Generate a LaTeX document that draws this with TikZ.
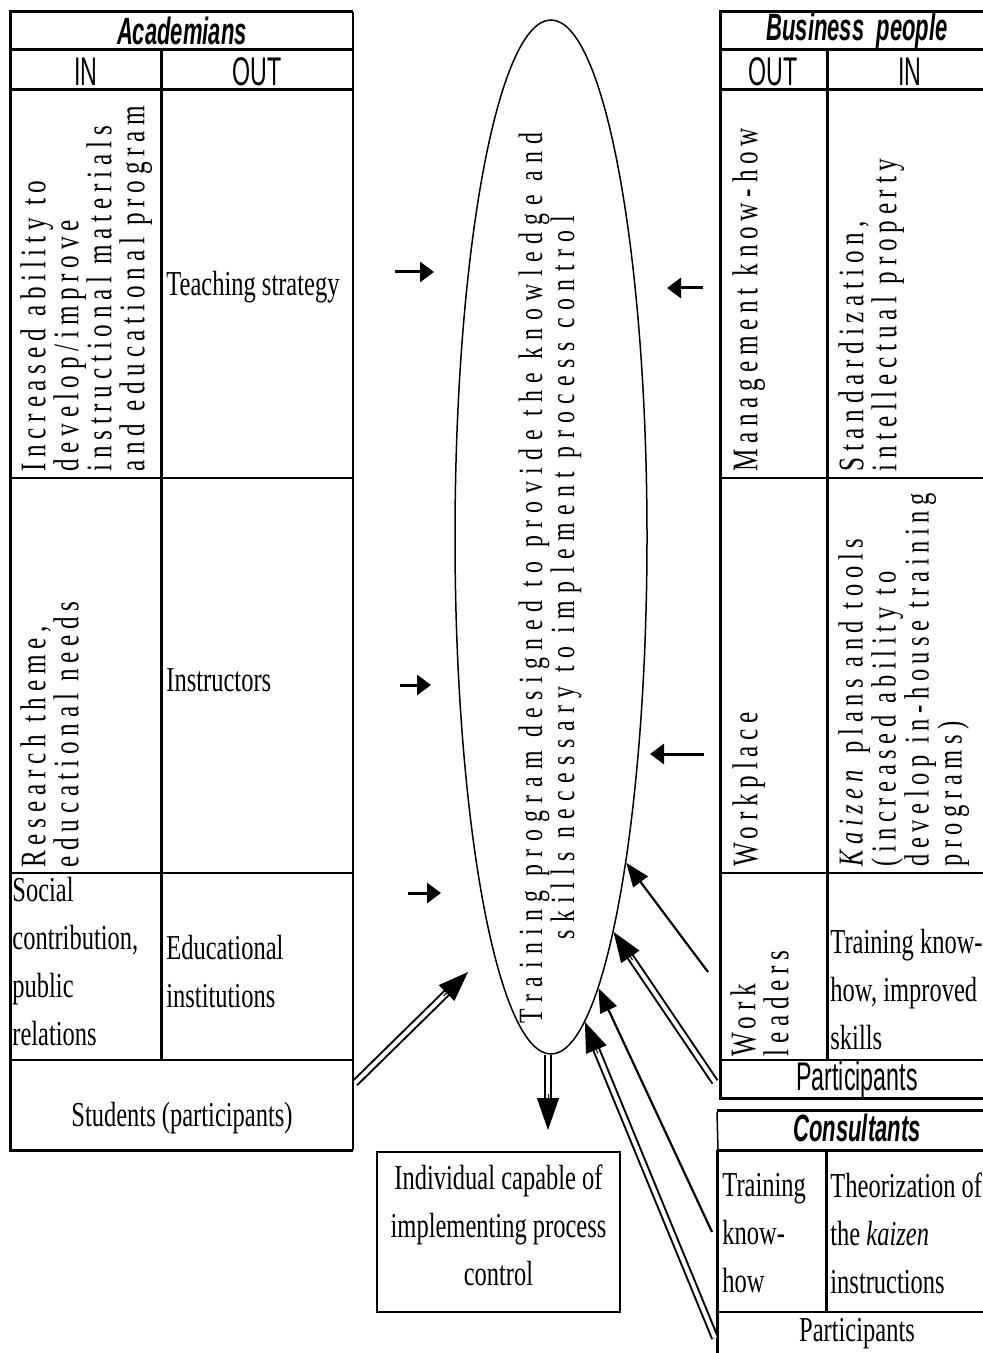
\documentclass[tikz,border=0pt]{standalone}
\usepackage{fontspec}
\setmainfont{Liberation Serif}[FakeStretch=0.7]
\newfontfamily\narrowsf{Liberation Sans}[FakeStretch=0.58]
\newfontfamily\spacedrm{Liberation Serif}[FakeStretch=0.7, LetterSpace=16]
\newfontfamily\ovalrm{Liberation Serif}[FakeStretch=0.7, LetterSpace=22]
\usetikzlibrary{shapes.geometric, arrows.meta, calc}

\begin{document}
\begin{tikzpicture}[x=0.5pt, y=-0.5pt, font=\fontsize{17.5}{24}\selectfont]
        \tikzstyle{heavy}=[line width=1.5pt];
        \tikzstyle{light}=[line width=0.75pt];
        \tikzstyle{tabtitle}=[inner sep=0pt, font=\narrowsf\bfseries\itshape\fontsize{19}{20}\selectfont];
        \tikzstyle{colhead}=[inner sep=0pt, font=\narrowsf\fontsize{20}{20}\selectfont];
        \tikzstyle{vtext}=[rotate=90, anchor=north west, align=left, inner sep=0pt, font=\spacedrm\fontsize{18}{16.5}\selectfont];
        \tikzstyle{cell}=[anchor=west, align=left, inner sep=0pt];
        \tikzstyle{flow}=[line width=1.5pt, -{Triangle[length=7pt, width=10pt]}];
        \tikzstyle{slim}=[line width=1.1pt, -{Triangle[length=12pt, width=9pt]}];
        \tikzstyle{dbl}=[line width=1pt, double, double distance=2pt];
        \tikzstyle{dblhead}=[line width=0.5pt, -{Triangle[length=15pt, width=11pt]}];

        \useasboundingbox (0,0) rectangle (983,1353);

        % Academians
        \draw[heavy] (353,12) -- (10,12) -- (10,1150) -- (353,1150);
        \draw[light, line width=1pt] (353,12) -- (353,1150);
        \draw[heavy] (10,50) -- (353,50) (10,90) -- (353,90) (161,50) -- (161,1060);
        \draw[light] (10,478) -- (353,478) (10,873) -- (353,873) (10,1060) -- (353,1060);
        \node[tabtitle] (acad) at (182,31) {Academians};
        \node[colhead] (acin) at (86,72) {IN};
        \node[colhead] (acout) at (257,72) {OUT};
        \node[vtext] (ability) at (20,472) {Increased ability to\\develop/improve\\instructional materials\\and educational program};
        \node[cell] (teach) at (166,287) {Teaching strategy};
        \node[vtext] (research) at (20,868) {Research theme,\\educational needs};
        \node[cell] (instr) at (166,680) {Instructors};
        \node[cell] (social) at (12,962) {Social\\contribution,\\public\\relations};
        \node[cell] (inst) at (166,972) {Educational\\institutions};
        \node (students) at (182,1118) {Students (participants)};

        % Business people
        \draw[heavy] (990,12) -- (720,12) -- (720,1098) -- (990,1098);
        \draw[heavy] (720,50) -- (990,50) (720,90) -- (990,90) (827,50) -- (827,1060);
        \draw[light] (720,478) -- (990,478) (720,873) -- (990,873) (720,1060) -- (990,1060);
        \node[tabtitle] (biz) at (857,31) {Business\ \ people};
        \node[colhead] (bizout) at (773,72) {OUT};
        \node[colhead] (bizin) at (910,72) {IN};
        \node[vtext] (mgmt) at (732,472) {Management know-how};
        \node[vtext] (std) at (838,472) {Standardization,\\intellectual property};
        \node[vtext] (workplace) at (732,867) {Workplace};
        \node[vtext, font=\spacedrm\fontsize{17.5}{16.5}\selectfont] (kaizen) at (838,867) {\textit{Kaizen} plans and tools\\(increased ability to\\develop in-house training\\programs)};
        \node[vtext] (leaders) at (730,1057) {Work\\leaders};
        \node[cell] (skills) at (830,990) {Training know-\\how, improved\\skills};
        \node[colhead] (bizpart) at (857,1080) {Participants};

        % Consultants
        \draw[heavy] (717,1110) -- (990,1110) (717,1150) -- (990,1150);
        \draw[light] (717,1112) -- (718,1150);
        \draw[heavy] (717,1150) -- (717,1353) (826,1150) -- (826,1312);
        \draw[light] (717,1312) -- (990,1312);
        \node[tabtitle] (cons) at (857,1128) {Consultants};
        \node[cell] (consknow) at (722,1233) {Training\\know-\\how};
        \node[cell] (theory) at (830,1233) {Theorization of\\the \textit{kaizen}\\instructions};
        \node (conspart) at (857,1334) {Participants};

        % training program and result
        \node[draw, ellipse, light, minimum width=96pt, minimum height=517pt, inner sep=0pt] (train) at (551,537) {};
        \node[rotate=90, align=center, inner sep=0pt, font=\ovalrm\fontsize{17}{16}\selectfont] (traintxt) at (550,578) {Training program designed to provide the knowledge and\\skills necessary to implement process control};
        \node[draw, line width=1pt, minimum width=121.5pt, minimum height=80pt, align=center, inner sep=0pt, text depth=7pt] (indiv) at (498.5,1232) {Individual capable of\\implementing process\\control};

        % arrows
        \coordinate (a1) at (395,272);  \coordinate (b1) at (434,272);
        \coordinate (a2) at (400,685);  \coordinate (b2) at (431,685);
        \coordinate (a3) at (408,893);  \coordinate (b3) at (441,893);
        \coordinate (a4) at (703,288);  \coordinate (b4) at (667,288);
        \coordinate (a5) at (704,754);  \coordinate (b5) at (650,754);
        \coordinate (wl1) at (708,972);
        \coordinate (wl2) at (715,1082);
        \coordinate (cs1) at (712,1232);
        \coordinate (cs2) at (715,1338);
        \coordinate (st) at (355,1083);
        \coordinate (stend) at (468,972);
        \coordinate (dnend) at (548,1130);

        \path[flow]
        (a1) edge (b1)
        (a2) edge (b2)
        (a3) edge (b3)
        (a4) edge (b4)
        (a5) edge (b5);

        \path[slim]
        (wl1) edge (train.-77.6)
        (cs1) edge (train.-84.3);

        \draw[dbl] (wl2) -- ($(train.-81.2)!13pt!(wl2)$);
        \draw[dblhead] ($(train.-81.2)!17pt!(wl2)$) -- (train.-81.2);
        \draw[dbl] (cs2) -- ($(train.-86)!13pt!(cs2)$);
        \draw[dblhead] ($(train.-86)!17pt!(cs2)$) -- (train.-86);
        \draw[dbl] (st) -- ($(stend)!13pt!(st)$);
        \draw[dblhead] ($(stend)!17pt!(st)$) -- (stend);
        \draw[dbl] (train.south -| dnend) -- ($(dnend)!15pt!(train.south -| dnend)$);
        \draw[dblhead, -{Triangle[length=16pt, width=11pt]}] ($(dnend)!18pt!(train.south -| dnend)$) -- (dnend);
\end{tikzpicture}
\end{document}
